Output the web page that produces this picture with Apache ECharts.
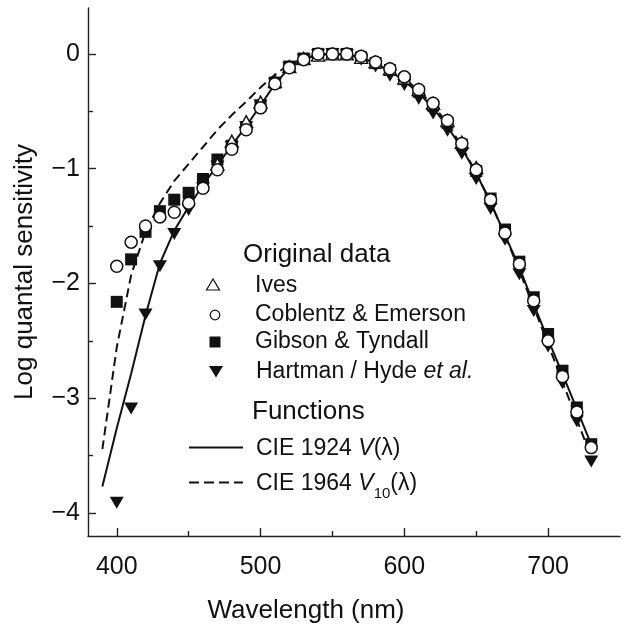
<!DOCTYPE html>
<html>
<head>
<meta charset="utf-8">
<script src="https://cdn.jsdelivr.net/npm/echarts@6/dist/echarts.min.js"></script>
<style>html,body{margin:0;padding:0;background:#fff;}#chart{width:623px;height:629px;}</style>
</head>
<body>
<div id="chart"></div>
<script>
// ---- Data ----
// Wavelengths (nm) of the observation points
const wlObs = [400,410,420,430,440,450,460,470,480,490,500,510,520,530,540,550,560,570,580,590,600,610,620,630,640,650,660,670,680,690,700,710,720,730];
const wlIves = [470,480,490,500,510,520,530,540,550,560,570,580,590,600,610,620,630,640,650];
// Wavelengths of the function curves
const wlFunc = [390,400,410,420,430,440,450,460,470,480,490,500,510,520,530,540,550,560,570,580,590,600,610,620,630,640,650,660,670,680,690,700,710,720,730];

const ives = [-0.96,-0.76,-0.59,-0.42,-0.24,-0.11,-0.04,-0.01,0.0,0.0,-0.03,-0.07,-0.13,-0.21,-0.31,-0.43,-0.58,-0.77,-0.99];
const coblentz = [-1.85,-1.64,-1.50,-1.42,-1.38,-1.30,-1.17,-1.01,-0.83,-0.66,-0.47,-0.26,-0.12,-0.05,0.0,0.0,0.0,-0.02,-0.07,-0.13,-0.20,-0.31,-0.43,-0.58,-0.78,-1.01,-1.27,-1.56,-1.83,-2.15,-2.50,-2.81,-3.12,-3.43];
const gibson = [-2.16,-1.79,-1.55,-1.37,-1.27,-1.21,-1.09,-0.92,-0.80,-0.64,-0.45,-0.25,-0.11,-0.04,0.0,0.0,0.0,-0.03,-0.08,-0.14,-0.22,-0.33,-0.45,-0.60,-0.79,-1.02,-1.26,-1.53,-1.81,-2.12,-2.44,-2.76,-3.08,-3.40];
const hartman = [-3.91,-3.09,-2.27,-1.85,-1.57,-1.36,-1.17,-0.98,-0.81,-0.64,-0.45,-0.26,-0.12,-0.05,-0.01,0.0,-0.01,-0.05,-0.11,-0.19,-0.27,-0.39,-0.52,-0.67,-0.87,-1.09,-1.35,-1.62,-1.92,-2.24,-2.55,-2.87,-3.20,-3.55];

const cie1924 = [-3.769,-3.262,-2.787,-2.279,-1.826,-1.539,-1.331,-1.142,-0.971,-0.796,-0.630,-0.447,-0.263,-0.122,-0.046,-0.010,0.000,-0.008,-0.035,-0.081,-0.149,-0.236,-0.341,-0.469,-0.634,-0.821,-1.041,-1.292,-1.578,-1.860,-2.182,-2.490,-2.788,-3.095,-3.405];
const cie1964 = [-3.444,-2.556,-1.927,-1.549,-1.302,-1.107,-0.958,-0.811,-0.661,-0.533,-0.416,-0.292,-0.181,-0.090,-0.038,-0.005,0.000,-0.005,-0.032,-0.081,-0.136,-0.216,-0.319,-0.448,-0.603,-0.807,-1.037,-1.295,-1.580,-1.887,-2.206,-2.529,-2.856,-3.186,-3.513];

// Tick values
const xMajorTicks = [400,500,600,700];
const xMinorTicks = [450,550,650];
const yMajorTicks = [0,-1,-2,-3,-4];
const yMinorTicks = [-0.5,-1.5,-2.5,-3.5];

const FONT = '"Liberation Sans", Arial, Helvetica, sans-serif';
const zip = (xs, ys) => xs.map((x, i) => [x, ys[i]]);

const axisCol = '#222';
const chart = echarts.init(document.getElementById('chart'), null, {renderer: 'canvas'});

const xBase = {type: 'value', min: 380, max: 750, position: 'bottom', splitLine: {show: false}};
const yBase = {type: 'value', min: -4.2, max: 0.4, position: 'left', splitLine: {show: false}};

const option = {
  animation: false,
  backgroundColor: '#fff',
  grid: {left: 88, top: 8, right: 3, bottom: 92, containLabel: false},
  xAxis: [
    Object.assign({}, xBase, {
      name: 'Wavelength (nm)', nameLocation: 'middle', nameGap: 62,
      nameTextStyle: {fontFamily: FONT, fontSize: 26, color: '#111', padding: [0, 96, 0, 0]},
      axisLine: {show: true, onZero: false, lineStyle: {color: axisCol, width: 1.4}},
      axisTick: {show: true, inside: true, length: 8, customValues: xMajorTicks, lineStyle: {color: axisCol, width: 1.4}},
      axisLabel: {show: true, customValues: xMajorTicks, fontFamily: FONT, fontSize: 25, color: '#111', margin: 19}
    }),
    Object.assign({}, xBase, {
      axisLine: {show: false, onZero: false},
      axisTick: {show: true, inside: true, length: 5, customValues: xMinorTicks, lineStyle: {color: axisCol, width: 1.4}},
      axisLabel: {show: false}
    })
  ],
  yAxis: [
    Object.assign({}, yBase, {
      name: 'Log quantal sensitivity', nameLocation: 'middle', nameGap: 50,
      nameTextStyle: {fontFamily: FONT, fontSize: 26, color: '#111'},
      axisLine: {show: true, onZero: false, lineStyle: {color: axisCol, width: 1.4}},
      axisTick: {show: true, inside: true, length: 8, customValues: yMajorTicks, lineStyle: {color: axisCol, width: 1.4}},
      axisLabel: {show: true, customValues: yMajorTicks, fontFamily: FONT, fontSize: 25, color: '#111', margin: 8,
        formatter: v => (v === 0 ? '0' : '\u2212' + Math.abs(v))}
    }),
    Object.assign({}, yBase, {
      axisLine: {show: false, onZero: false},
      axisTick: {show: true, inside: true, length: 5, customValues: yMinorTicks, lineStyle: {color: axisCol, width: 1.4}},
      axisLabel: {show: false}
    })
  ],
  series: [
    {type: 'line', name: 'CIE 1924 V(λ)', data: zip(wlFunc, cie1924), symbol: 'none',
      lineStyle: {color: '#111', width: 2}, z: 1},
    {type: 'line', name: 'CIE 1964 V10(λ)', data: zip(wlFunc, cie1964), symbol: 'none',
      lineStyle: {color: '#111', width: 2, type: [9, 5]}, z: 1},
    {type: 'scatter', name: 'Hartman / Hyde et al.', data: zip(wlObs, hartman), symbol: 'triangle',
      symbolRotate: 180, symbolSize: [14, 12], itemStyle: {color: '#111', opacity: 1}, z: 3},
    {type: 'scatter', name: 'Gibson & Tyndall', data: zip(wlObs, gibson), symbol: 'rect',
      symbolSize: 12, itemStyle: {color: '#111', opacity: 1}, z: 3},
    {type: 'scatter', name: 'Ives', data: zip(wlIves, ives), symbol: 'triangle',
      symbolSize: [13, 12], itemStyle: {color: '#fff', borderColor: '#111', borderWidth: 1.4, opacity: 1}, z: 3},
    {type: 'scatter', name: 'Coblentz & Emerson', data: zip(wlObs, coblentz), symbol: 'circle',
      symbolSize: 12, itemStyle: {color: '#fff', borderColor: '#111', borderWidth: 1.5, opacity: 1}, z: 3}
  ],
  graphic: [
    {type: 'text', style: {text: 'Original data', x: 243, y: 255, font: '26px ' + FONT, fill: '#111', verticalAlign: 'middle'}},
    {type: 'polygon', shape: {points: [[213, 279], [206.5, 290], [219.5, 290]]}, style: {fill: '#fff', stroke: '#111', lineWidth: 1.2}},
    {type: 'text', style: {text: 'Ives', x: 255, y: 286, font: '23px ' + FONT, fill: '#111', verticalAlign: 'middle'}},
    {type: 'circle', shape: {cx: 215, cy: 315, r: 4.8}, style: {fill: '#fff', stroke: '#111', lineWidth: 1.2}},
    {type: 'text', style: {text: 'Coblentz & Emerson', x: 255, y: 314.5, font: '23px ' + FONT, fill: '#111', verticalAlign: 'middle'}},
    {type: 'rect', shape: {x: 209.5, y: 336.5, width: 11, height: 11}, style: {fill: '#111'}},
    {type: 'text', style: {text: 'Gibson & Tyndall', x: 255, y: 342, font: '23px ' + FONT, fill: '#111', verticalAlign: 'middle'}},
    {type: 'polygon', shape: {points: [[209, 366], [223, 366], [216, 377.5]]}, style: {fill: '#111'}},
    {type: 'text', style: {text: '{n|Hartman / Hyde }{i|et al.}', x: 256, y: 371.5, fill: '#111', verticalAlign: 'middle',
      rich: {n: {fontFamily: FONT, fontSize: 23, fill: '#111'}, i: {fontFamily: FONT, fontSize: 23, fontStyle: 'italic', fill: '#111'}}}},
    {type: 'text', style: {text: 'Functions', x: 252, y: 411.5, font: '26px ' + FONT, fill: '#111', verticalAlign: 'middle'}},
    {type: 'line', shape: {x1: 189, y1: 447.5, x2: 243, y2: 447.5}, style: {stroke: '#111', lineWidth: 2}},
    {type: 'text', style: {text: '{n|CIE 1924 }{i|V}{n|(λ)}', x: 256, y: 449, fill: '#111', verticalAlign: 'middle',
      rich: {n: {fontFamily: FONT, fontSize: 23, fill: '#111'}, i: {fontFamily: FONT, fontSize: 23, fontStyle: 'italic', fill: '#111'}}}},
    {type: 'line', shape: {x1: 189, y1: 482.5, x2: 243, y2: 482.5}, style: {stroke: '#111', lineWidth: 2, lineDash: [10, 5]}},
    {type: 'text', style: {text: '{n|CIE 1964 }{i|V}{s|10}{n|(λ)}', x: 256, y: 484, fill: '#111', verticalAlign: 'middle',
      rich: {n: {fontFamily: FONT, fontSize: 23, fill: '#111', lineHeight: 26},
             i: {fontFamily: FONT, fontSize: 23, fontStyle: 'italic', fill: '#111', lineHeight: 26},
             s: {fontFamily: FONT, fontSize: 15, fill: '#111', verticalAlign: 'bottom', lineHeight: 34}}}}
  ]
};
chart.setOption(option);
</script>
</body>
</html>
